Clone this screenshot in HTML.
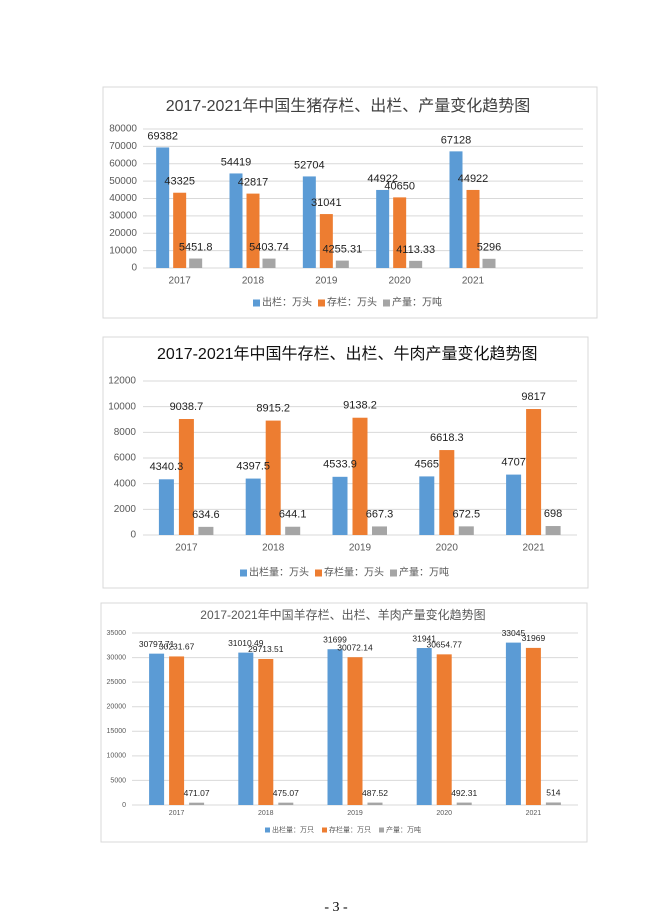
<!DOCTYPE html>
<html><head><meta charset="utf-8"><style>
html,body{margin:0;padding:0;background:#fff;width:657px;height:923px;overflow:hidden}
svg{display:block}
text{font-family:"Liberation Sans","Noto Sans CJK SC",sans-serif}
</style></head><body>
<svg id="s" width="657" height="923" xmlns="http://www.w3.org/2000/svg"></svg>
<script>
const S=document.getElementById('s');let h='';
const C=['#5b9bd5','#ed7d31','#a5a5a5'];
function chart(o){
 h+=`<rect x="${o.bx}" y="${o.by}" width="${o.bw}" height="${o.bh}" fill="#fff" stroke="#d9d9d9" stroke-width="1"/>`;
 h+=`<text x="${o.tx}" y="${o.ty}" font-size="${o.tfs}" fill="${o.tc}" text-anchor="${o.ta}" dominant-baseline="middle" ${o.tw?'font-weight="'+o.tw+'"':''}>${o.title}</text>`;
 const sc=(o.y0-o.yTop)/o.max;
 for(let v=0;v<=o.max;v+=o.step){const y=o.y0-v*sc;
  h+=`<line x1="${o.px0}" x2="${o.px1}" y1="${y}" y2="${y}" stroke="#d9d9d9" stroke-width="1"/>`;
  if(o.ylab) h+=`<text x="${o.ylx}" y="${y}" font-size="${o.afs}" fill="#595959" text-anchor="end" dominant-baseline="middle">${v}</text>`;}
 const cw=(o.px1-o.px0)/o.ncat;let labs='';
 o.data.forEach((d,i)=>{const cx=o.px0+cw*(i+0.5);
  h+=`<text x="${cx}" y="${o.yly}" font-size="${o.afs}" fill="#595959" text-anchor="middle" dominant-baseline="middle">${2017+i}</text>`;
  d.forEach((v,j)=>{const bc=cx+o.off[j];const t=o.y0-v*sc;
   h+=`<rect x="${bc-o.bwid/2}" y="${t}" width="${o.bwid}" height="${o.y0-t}" fill="${C[j]}"/>`;
   labs+=`<text x="${bc}" y="${t-o.lo}" font-size="${o.lfs}" fill="#222" text-anchor="middle" dominant-baseline="middle">${v}</text>`;});});
 h+=labs;
 let x=o.lgx;o.leg.forEach((l,j)=>{h+=`<rect x="${x}" y="${o.lgy-o.lsq/2}" width="${o.lsq}" height="${o.lsq}" fill="${C[j]}"/>`;
  h+=`<text x="${x+o.lsq+2}" y="${o.lgy}" font-size="${o.lgfs}" fill="#595959" dominant-baseline="middle">${l}</text>`;x+=o.lgw[j];});
}
chart({bx:103,by:87,bw:494,bh:231,title:'2017-2021年中国生猪存栏、出栏、产量变化趋势图',tx:348,ty:107,tfs:16,tc:'#404040',ta:'middle',tw:false,
 y0:268,yTop:129,max:80000,step:10000,px0:143,px1:583,ylab:true,ylx:137,afs:10,ncat:6,yly:281,
 data:[[69382,43325,5451.8],[54419,42817,5403.74],[52704,31041,4255.31],[44922,40650,4113.33],[67128,44922,5296]],
 off:[-17,0,16],bwid:13,lo:11,lfs:11,leg:['出栏：万头','存栏：万头','产量：万吨'],lgx:253,lgy:303,lsq:7,lgfs:10,lgw:[65,65,65]});
chart({bx:103,by:337,bw:485,bh:251,title:'2017-2021年中国牛存栏、出栏、牛肉产量变化趋势图',tx:157,ty:355,tfs:16,tc:'#111',ta:'start',tw:false,
 y0:535,yTop:381,max:12000,step:2000,px0:143,px1:577,ylab:true,ylx:136,afs:10,ncat:5,yly:548,
 data:[[4340.3,9038.7,634.6],[4397.5,8915.2,644.1],[4533.9,9138.2,667.3],[4565,6618.3,672.5],[4707,9817,698]],
 off:[-20,0,19.5],bwid:15,lo:12,lfs:11,leg:['出栏量：万头','存栏量：万头','产量：万吨'],lgx:240,lgy:573,lsq:7,lgfs:10,lgw:[75,75,70]});
chart({bx:101,by:603,bw:486,bh:239,title:'2017-2021年中国羊存栏、出栏、羊肉产量变化趋势图',tx:343,ty:616,tfs:12,tc:'#595959',ta:'middle',tw:false,
 y0:805,yTop:633,max:35000,step:5000,px0:132,px1:578,ylab:true,ylx:126,afs:7,ncat:5,yly:813,
 data:[[30797.71,30231.67,471.07],[31010.49,29713.51,475.07],[31699,30072.14,487.52],[31941,30654.77,492.31],[33045,31969,514]],
 off:[-20,0,20],bwid:15,lo:9,lfs:8.5,leg:['出栏量：万只','存栏量：万只','产量：万吨'],lgx:265,lgy:830,lsq:5,lgfs:7,lgw:[57,57,50]});
h+=`<text x="336" y="908" font-size="14" fill="#000" text-anchor="middle" dominant-baseline="middle" style="font-family:'Liberation Serif',serif">- 3 -</text>`;
S.innerHTML=h;
</script>
</body></html>
